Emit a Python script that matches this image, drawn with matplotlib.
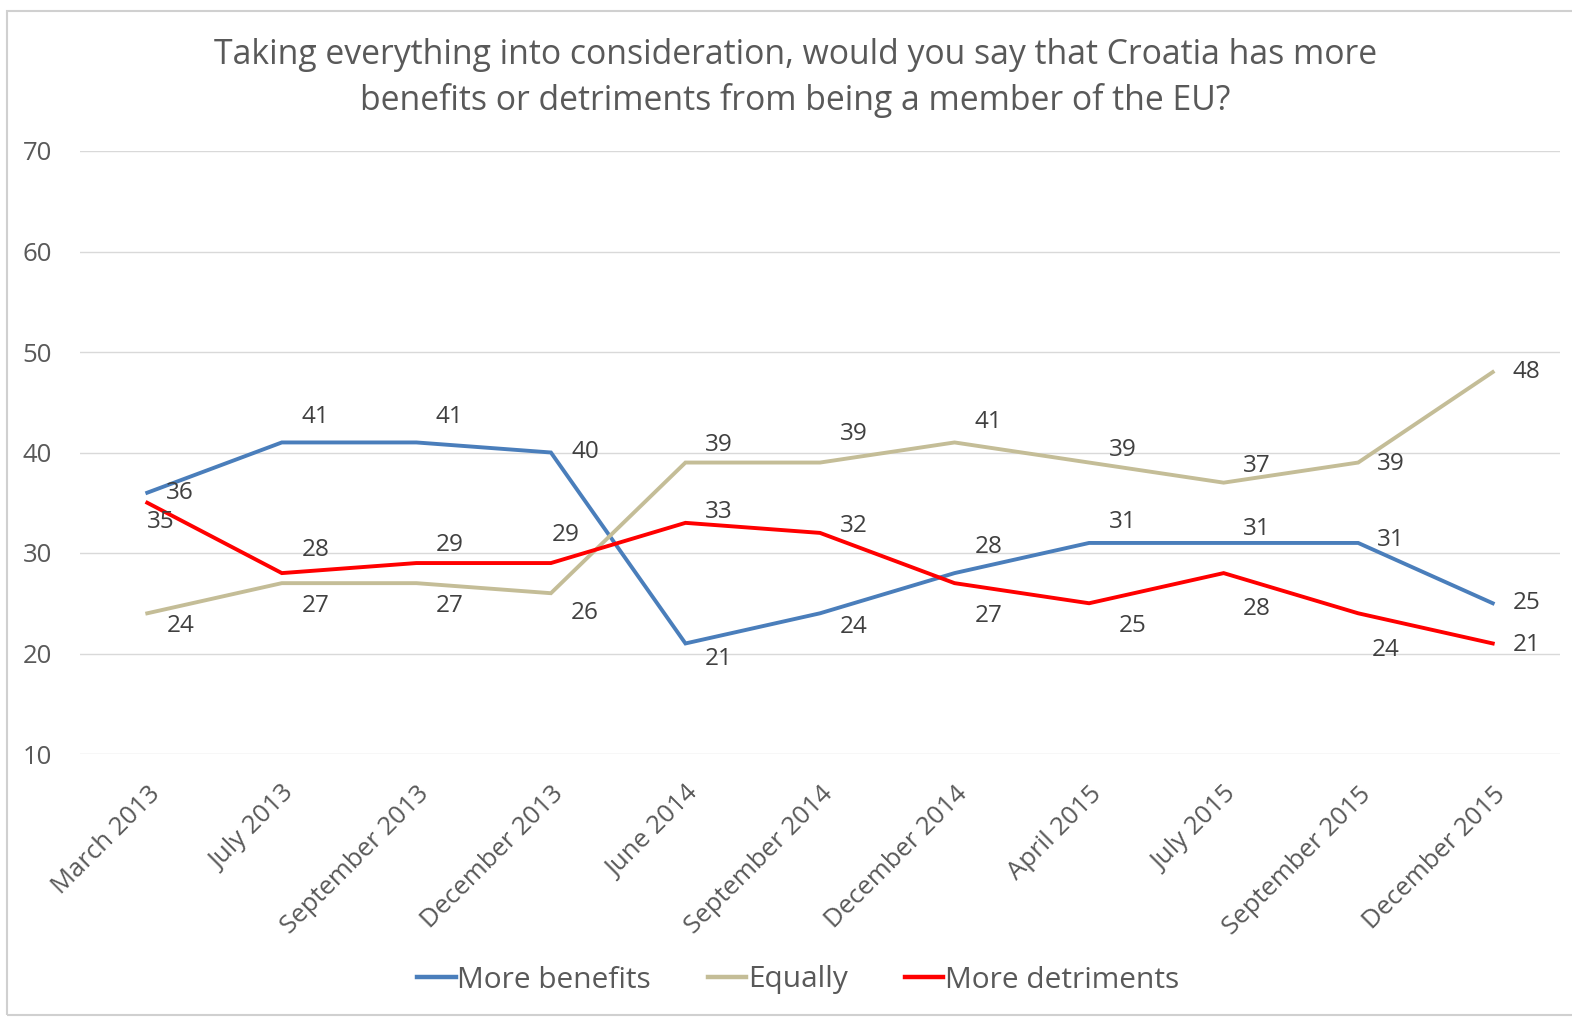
from matplotlib import pyplot as plt
from matplotlib.patches import Rectangle
import numpy as np

# survey waves
dates = ["March 2013", "July 2013", "September 2013", "December 2013", "June 2014",
         "September 2014", "December 2014", "April 2015", "July 2015",
         "September 2015", "December 2015"]

benefits = [36, 41, 41, 40, 21, 24, 28, 31, 31, 31, 25]
equally = [24, 27, 27, 26, 39, 39, 41, 39, 37, 39, 48]
detriments = [35, 28, 29, 29, 33, 32, 27, 25, 28, 24, 21]

# label offsets in pixels (dx, dy), dy positive = down as in the picture
off_ben = [(33, 0), (34, -25), (33, -25), (34, 0), (33, 16), (34, 14), (34, -26),
           (34, -21), (33, -14), (33, -3), (34, 0)]
off_eq = [(33, 13), (34, 23), (33, 23), (34, 20), (33, -18), (34, -29), (34, -20),
          (34, -13), (33, -17), (33, 1), (34, 0)]
off_det = [(13, 19), (34, -23), (33, -18), (15, -28), (33, -11), (34, -7), (34, 33),
           (44, 23), (33, 36), (28, 37), (34, 2)]

txt = "#595959"
font = "Open Sans"
plt.rcParams['font.family'] = [font, 'DejaVu Sans']

fig = plt.figure(figsize=(15.72, 10.17), dpi=100)
ax = fig.add_axes([80/1572, 1-754/1017, 1480/1572, 603/1017])

x = np.arange(len(dates))
series = [(benefits, "#4A7EBB", "More benefits", off_ben),
          (equally, "#C4BD97", "Equally", off_eq),
          (detriments, "#FF0000", "More detriments", off_det)]

for vals, col, name, offs in series:
    ax.plot(x, vals, color=col, lw=2.8, label=name, solid_joinstyle='miter')
    for xi, v, (dx, dy) in zip(x, vals, offs):
        ax.annotate(str(v), (xi, v), xytext=(dx, -dy), textcoords='offset pixels',
                    ha='center', va='center', fontsize=17.5, color="#404040")

ax.set_xlim(-0.5, len(dates) - 0.5)
ax.set_ylim(10, 70)
ax.set_yticks(range(10, 71, 10))
ax.grid(axis='y', color="#D9D9D9", lw=1)
ax.set_axisbelow(True)
for s in ax.spines.values():
    s.set_visible(False)
ax.tick_params(axis='both', length=0, colors=txt, labelsize=18.5)
ax.tick_params(axis='y', pad=20)
ax.set_xticks(x)
ax.set_xticklabels(dates, rotation=45, ha='right', rotation_mode='anchor')
ax.tick_params(axis='x', pad=20)

fig.text(0.506, 1-78/1017,
         "Taking everything into consideration, would you say that Croatia has more\n"
         "benefits or detriments from being a member of the EU?",
         ha='center', va='center', fontsize=24.3, color=txt, linespacing=1.4)

leg = fig.legend(loc='center', bbox_to_anchor=(798/1572, 1-980/1017), ncol=3,
                 frameon=False, fontsize=21.5, handlelength=1.3, handletextpad=0.05,
                 columnspacing=1.9)
for t in leg.get_texts():
    t.set_color(txt)
for h in leg.get_lines():
    h.set_linewidth(3.2)

fig.patches.append(Rectangle((7/1572, 2/1017), 1.1, 1004/1017, transform=fig.transFigure,
                             fill=False, edgecolor="#D0D0D0", lw=1.5))

plt.savefig("out.png", dpi=100)
